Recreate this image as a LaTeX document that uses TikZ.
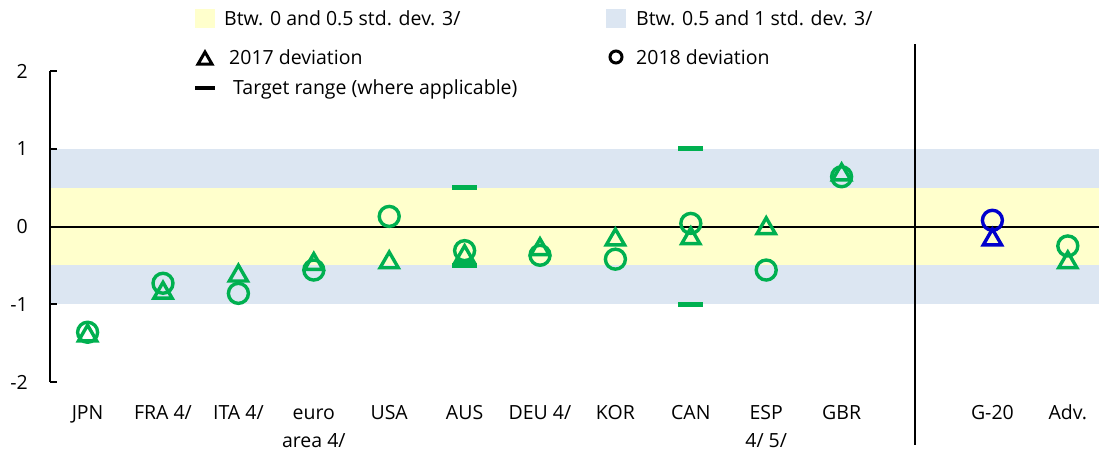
\documentclass[tikz,border=0pt]{standalone}
\usepackage{fontspec}
\setmainfont{Open Sans}
\usetikzlibrary{shapes.geometric}
\definecolor{grn}{HTML}{00B050}
\definecolor{blu}{HTML}{0000CC}
\definecolor{bandY}{HTML}{FFFFCC}
\definecolor{bandB}{HTML}{DCE6F2}
\begin{document}
\begin{tikzpicture}[x=1pt,y=-1pt,
  every node/.style={font=\fontsize{19.5}{28}\selectfont, inner sep=0pt},
  tri/.style={draw=#1, regular polygon, regular polygon sides=3, minimum size=21pt, line width=3.4pt, yshift=-2.6pt},
  tri/.default=grn,
  circ/.style={draw=#1, circle, minimum size=20pt, line width=3.4pt},
  circ/.default=grn,
  tgt/.style={fill=grn, rectangle, minimum width=25pt, minimum height=5pt},
  legtxt/.style={anchor=west},
  cat/.style={anchor=base, align=center},
  ticklab/.style={anchor=east}]
\useasboundingbox (0,0) rectangle (1099,451);
% legend
\node[fill=bandY, minimum width=20pt, minimum height=19pt] (ly) at (205,18.5) {};
\node[legtxt] (lyt) at (224,18.5) {Btw. 0 and 0.5 std. dev. 3/};
\node[fill=bandB, minimum width=20pt, minimum height=19pt] (lb) at (616,18.5) {};
\node[legtxt] (lbt) at (636,18.5) {Btw. 0.5 and 1 std. dev. 3/};
\node[draw=black, regular polygon, regular polygon sides=3, minimum size=16pt, line width=3pt, yshift=-2pt] (lt) at (205,58) {};
\node[legtxt] (ltt) at (229,57) {2017 deviation};
\node[draw=black, circle, minimum size=12pt, line width=3pt] (lc) at (616,57) {};
\node[legtxt] (lct) at (636,57) {2018 deviation};
\node[fill=black, minimum width=20pt, minimum height=4pt] (ld) at (205,88) {};
\node[legtxt] (ldt) at (233,89) {Target range (where applicable)};
\begin{scope}[shift={(0,226.5)}, y=77.75pt]
  \fill[bandB] (50,0.5) rectangle (1099,1);
  \fill[bandB] (50,-0.5) rectangle (1099,-1);
  \fill[bandY] (50,-0.5) rectangle (1099,0.5);
  \coordinate (z0) at (50,0);
  \coordinate (z1) at (1099,0);
  \draw[line width=2pt] (z0) -- (z1);
  \coordinate (a0) at (50,-2);
  \coordinate (a1) at (50,2);
  \draw[line width=1.8pt] (a0) -- (a1);
  \foreach \v/\l in {2/2,1/1,0/0,-1/-1,-2/-2}{
    \coordinate (tk\l) at (50,\v);
    \draw[line width=1.8pt] (tk\l) -- ++(7pt,0);
    \node[ticklab] (yl\l) at (28,\v) {\l};
  }
\end{scope}
% separator
\coordinate (s1) at (915,44);
\coordinate (s2) at (915,445);
\draw[line width=1.8pt] (s1) -- (s2);
\begin{scope}[shift={(0,226.5)}, y=77.75pt]
  % circles (2018)
  \foreach \n/\x/\v in {jpn/87.6/-1.36, fra/163/-0.73, ita/238.4/-0.86, eur/313.8/-0.56, usa/389.2/0.13, aus/464.6/-0.31, deu/540/-0.37, kor/615.4/-0.42, can/690.8/0.04, esp/766.2/-0.56, gbr/841.6/0.64, adv/1067.8/-0.25}
    \node[circ] (c-\n) at (\x,\v) {};
  \node[circ=blu] (c-g20) at (992.4,0.08) {};
  % triangles (2017)
  \foreach \n/\x/\v in {jpn/87.6/-1.37, fra/163/-0.82, ita/238.4/-0.60, eur/313.8/-0.45, usa/389.2/-0.43, aus/464.6/-0.35, deu/540/-0.26, kor/615.4/-0.135, can/690.8/-0.12, esp/766.2/0.01, gbr/841.6/0.70, adv/1067.8/-0.43}
    \node[tri] (t-\n) at (\x,\v) {};
  \node[tri=blu] (t-g20) at (992.4,-0.135) {};
  % target ranges
  \node[tgt] (g-aus-hi) at (464.6,0.5) {};
  \node[tgt] (g-aus-lo) at (464.6,-0.5) {};
  \node[tgt] (g-can-hi) at (690.8,1) {};
  \node[tgt] (g-can-lo) at (690.8,-1) {};
\end{scope}
% category labels
\foreach \n/\x/\y/\t in {jpn/87.6/419/{JPN}, fra/163/419/{FRA 4/}, ita/238.4/419/{ITA 4/}, eur/313.8/447/{euro\\area 4/}, usa/389.2/419/{USA}, aus/464.6/419/{AUS}, deu/540/419/{DEU 4/}, kor/615.4/419/{KOR}, can/690.8/419/{CAN}, esp/766.2/447/{ESP\\4/ 5/}, gbr/841.6/419/{GBR}, g20/992.4/419/{G-20}, adv/1067.8/419/{Adv.}}
  \node[cat] (x-\n) at (\x,\y) {\t};
\end{tikzpicture}
\end{document}
